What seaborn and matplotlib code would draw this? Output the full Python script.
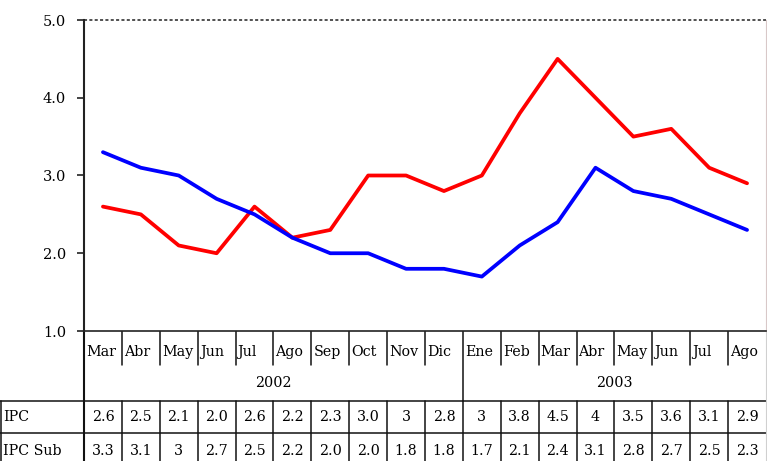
import matplotlib
matplotlib.use("Agg")
import matplotlib.pyplot as plt
from matplotlib.transforms import blended_transform_factory, offset_copy
import seaborn as sns
import pandas as pd
import numpy as np

# ---- data ----
months = ["Mar", "Abr", "May", "Jun", "Jul", "Ago", "Sep", "Oct", "Nov", "Dic",
          "Ene", "Feb", "Mar", "Abr", "May", "Jun", "Jul", "Ago"]
years = ["2002", "2003"]
year_spans = [10, 8]
ipc = [2.6, 2.5, 2.1, 2.0, 2.6, 2.2, 2.3, 3.0, 3.0, 2.8,
       3.0, 3.8, 4.5, 4.0, 3.5, 3.6, 3.1, 2.9]
ipc_sub = [3.3, 3.1, 3.0, 2.7, 2.5, 2.2, 2.0, 2.0, 1.8, 1.8,
           1.7, 2.1, 2.4, 3.1, 2.8, 2.7, 2.5, 2.3]
ipc_labels = ["2.6", "2.5", "2.1", "2.0", "2.6", "2.2", "2.3", "3.0", "3", "2.8",
              "3", "3.8", "4.5", "4", "3.5", "3.6", "3.1", "2.9"]
ipc_sub_labels = ["3.3", "3.1", "3", "2.7", "2.5", "2.2", "2.0", "2.0", "1.8", "1.8",
                  "1.7", "2.1", "2.4", "3.1", "2.8", "2.7", "2.5", "2.3"]
series_names = ["IPC", "IPC Sub"]
yticks = [1.0, 2.0, 3.0, 4.0, 5.0]

sns.set_style("ticks")
plt.rcParams["font.family"] = ["DejaVu Serif"]
plt.rcParams["font.size"] = 10
plt.rcParams["text.color"] = "black"

W, H = 767, 461
fig = plt.figure(figsize=(W / 100, H / 100), dpi=100)

# plot area in pixels
L, R, T, B = 84, 766, 20, 331
ax = fig.add_axes([L / W, (H - B) / H, (R - L) / W, (B - T) / H])

n = len(months)
df = pd.DataFrame({
    "x": list(range(n)) * 2,
    "value": ipc + ipc_sub,
    "serie": [series_names[0]] * n + [series_names[1]] * n,
})
sns.lineplot(data=df, x="x", y="value", hue="serie",
             palette={"IPC": "#FF0000", "IPC Sub": "#0000FF"},
             linewidth=2.7, legend=False, ax=ax)

ax.set_xlim(-0.5, n - 0.5)
ax.set_ylim(1.0, 5.0)
ax.set_yticks(yticks)
ax.set_yticklabels([f"{v:.1f}" for v in yticks], fontsize=10.5, color="black")
ax.set_xticks([])
ax.set_xlabel("")
ax.set_ylabel("")
ax.tick_params(axis="y", direction="out", length=5, width=1.2, pad=8, color="#222222")
ax.spines["top"].set_visible(False)
ax.spines["left"].set_linewidth(1.5)
ax.spines["left"].set_color("#222222")
ax.spines["bottom"].set_linewidth(1.2)
ax.spines["bottom"].set_color("#222222")
ax.spines["right"].set_color("#d8c8c8")
ax.spines["right"].set_linewidth(0.8)
ax.axhline(5.0, color="#222222", linestyle=(0, (2, 1.5)), linewidth=1.1, clip_on=False)

# ---- table overlay ----
ax2 = fig.add_axes([0, 0, 1, 1], zorder=-1)
ax2.set_xlim(0, W)
ax2.set_ylim(H, 0)
ax2.axis("off")
tr = blended_transform_factory(ax.transData, ax2.transData)
tr_pad = offset_copy(tr, fig=fig, x=2, y=0, units="dots")

lc = "#111111"
lw = 1.1
month_top, month_bot, year_bot = B, 365, 401
row1_bot, row2_bot = 433, 470
fs = 10.3

# month row verticals
for k in range(1, n):
    bottom = year_bot if k == year_spans[0] else month_bot
    ax2.plot([k - 0.5, k - 0.5], [month_top, bottom], color=lc, lw=lw, transform=tr)
# left axis continuation
ax2.plot([-0.5, -0.5], [month_top, row2_bot], color=lc, lw=1.5, transform=tr)
# horizontal lines
ax2.plot([0, R], [year_bot, year_bot], color=lc, lw=lw)
ax2.plot([0, R], [row1_bot, row1_bot], color=lc, lw=lw)
ax2.plot([1, 1], [year_bot, row2_bot], color=lc, lw=lw)
ax2.plot([R, R], [B, row2_bot], color="#d0d0d0", lw=0.8)
# table row verticals
for k in range(1, n):
    ax2.plot([k - 0.5, k - 0.5], [year_bot, row2_bot], color=lc, lw=lw, transform=tr)

# month labels
for i, m in enumerate(months):
    ax2.text(i - 0.5, 352, m, transform=tr_pad, ha="left", va="center", fontsize=fs)
# year labels
start = 0
for yr, span in zip(years, year_spans):
    ax2.text(start - 0.5 + span / 2, 383, yr, transform=tr, ha="center", va="center", fontsize=fs)
    start += span
# row labels
ax2.text(3, 417, series_names[0], ha="left", va="center", fontsize=fs)
ax2.text(3, 451, series_names[1], ha="left", va="center", fontsize=fs)
for i in range(n):
    ax2.text(i, 417, ipc_labels[i], transform=tr, ha="center", va="center", fontsize=fs)
    ax2.text(i, 451, ipc_sub_labels[i], transform=tr, ha="center", va="center", fontsize=fs)

fig.savefig("out.png", dpi=100)
